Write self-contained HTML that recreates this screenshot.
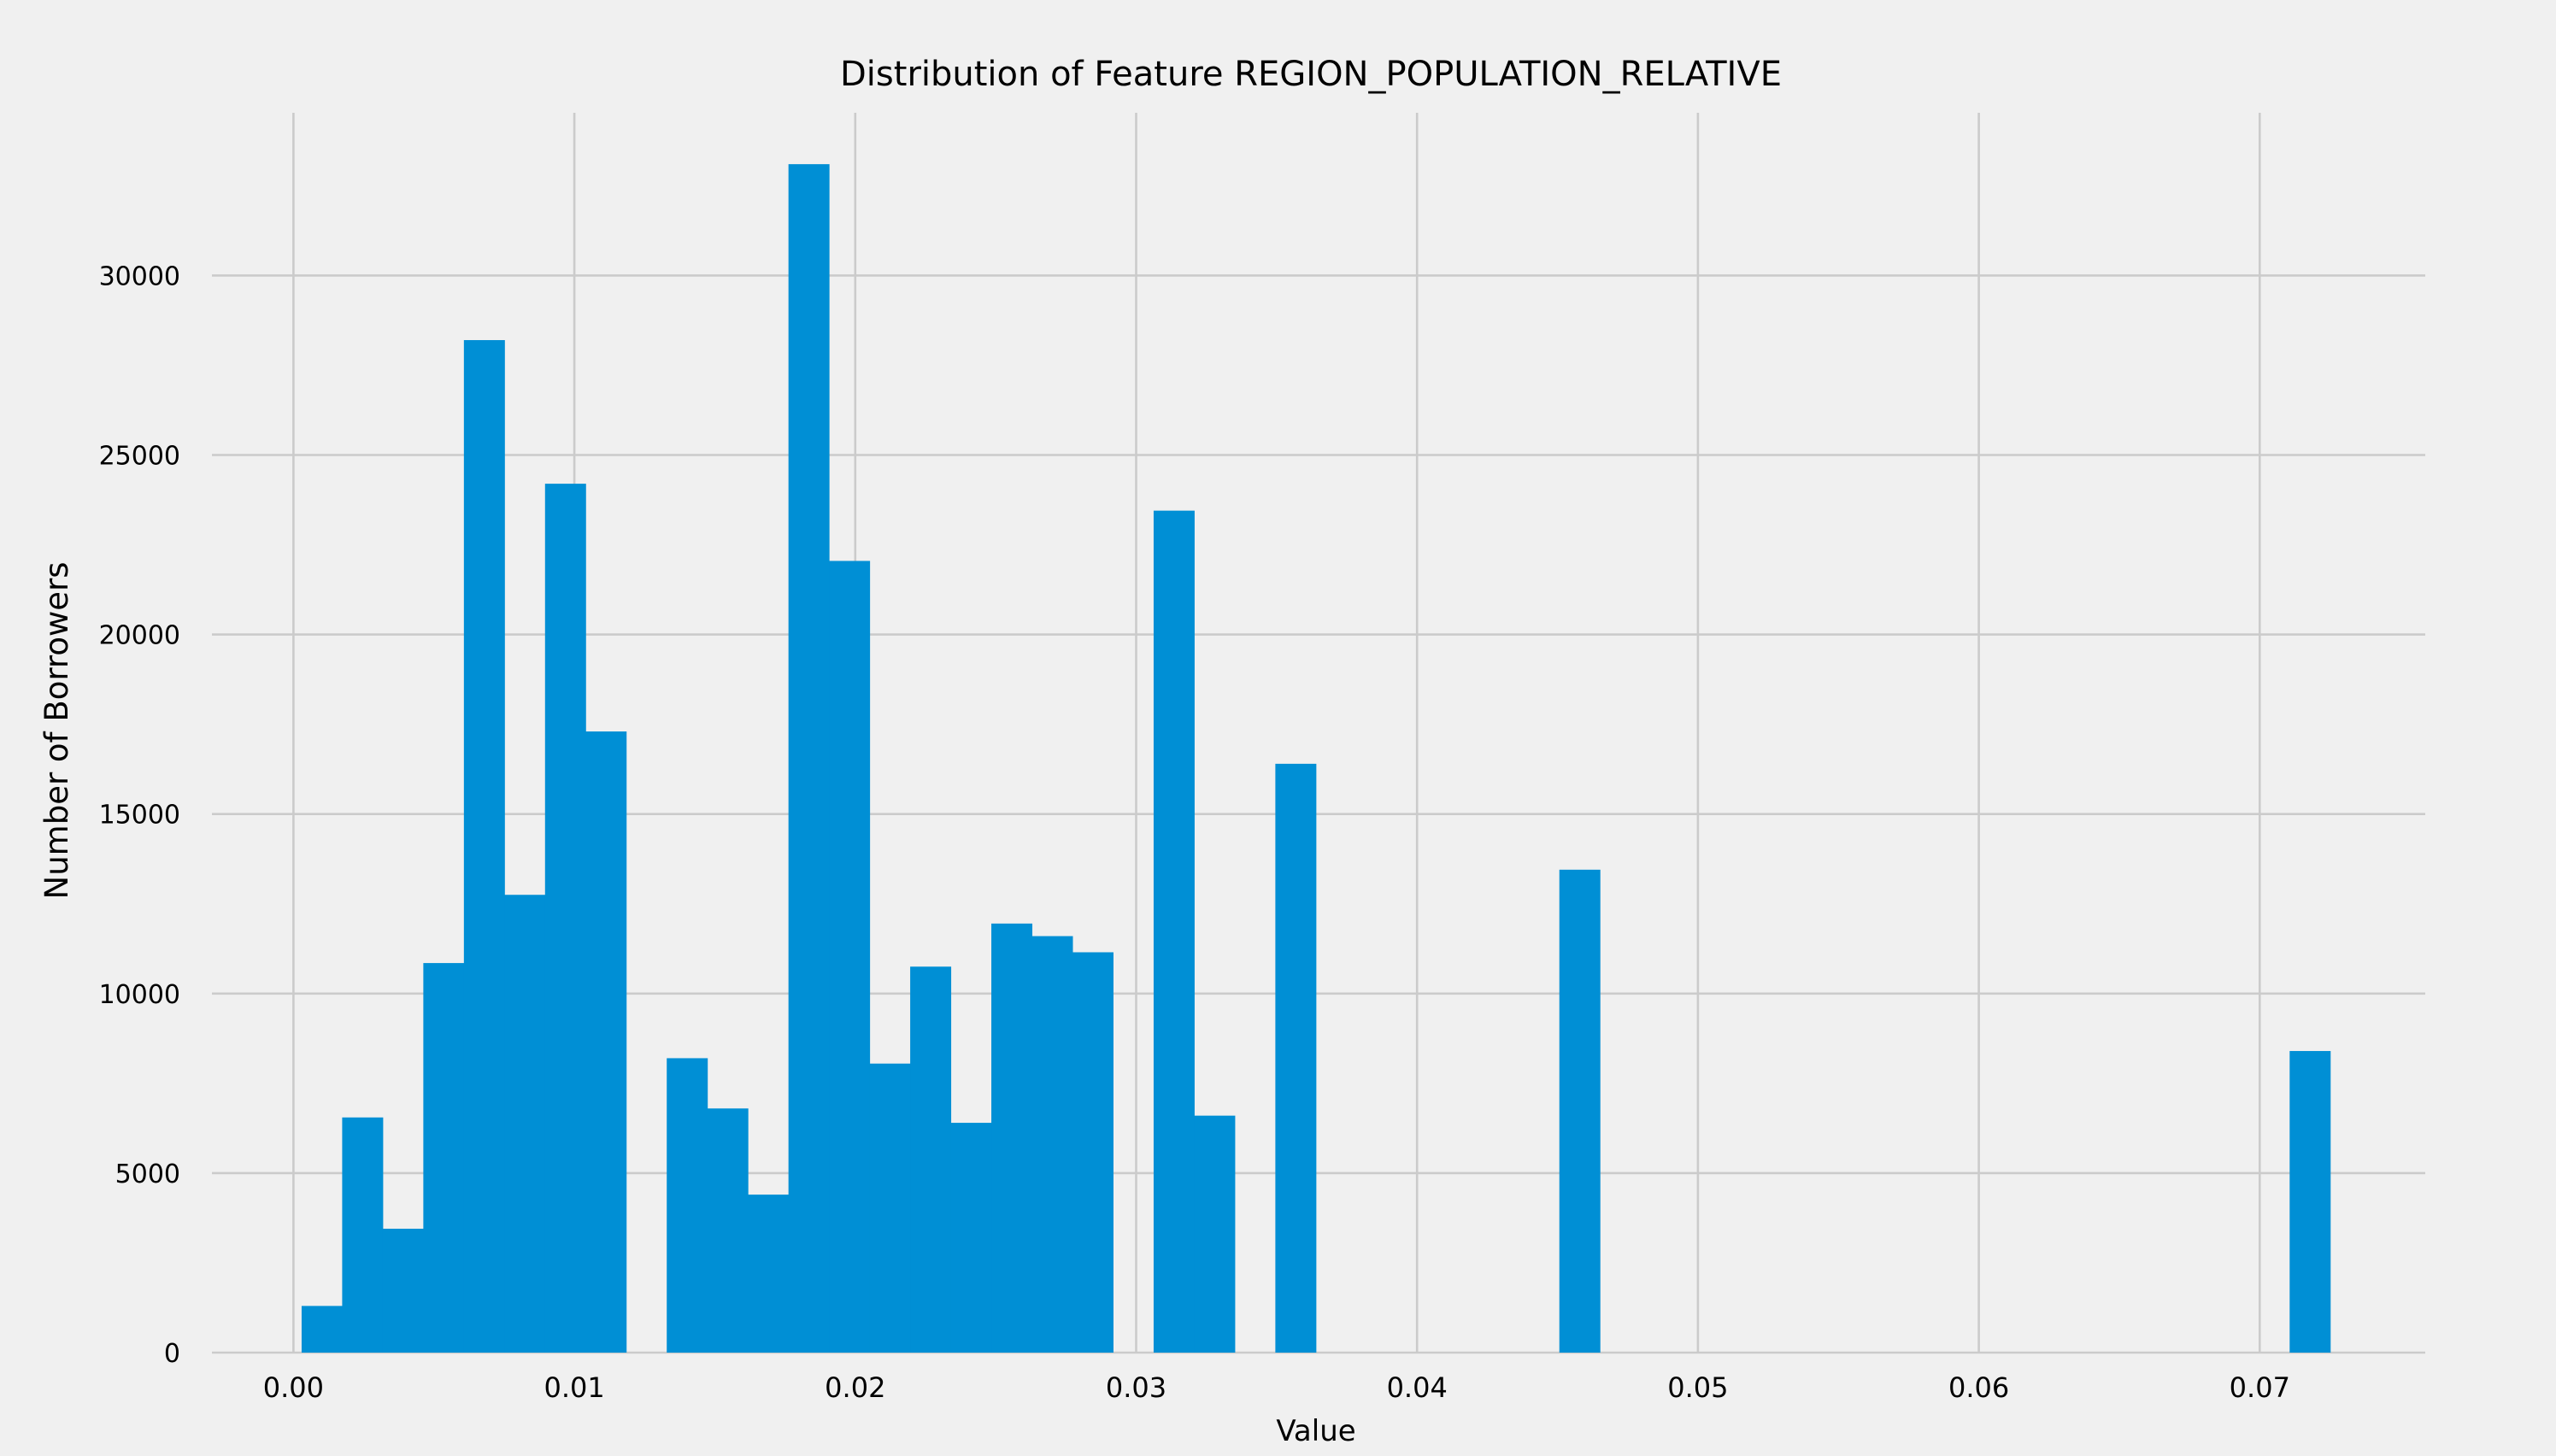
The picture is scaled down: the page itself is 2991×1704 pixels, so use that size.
<!DOCTYPE html>
<html><head><meta charset="utf-8"><style>
html,body{margin:0;padding:0;background:#f0f0f0;}
svg{display:block;font-family:"DejaVu Sans","Liberation Sans",sans-serif;}
</style></head><body>
<svg id="chart" width="2991" height="1704" viewBox="0 0 2991 1704">
<rect x="0" y="0" width="2991" height="1704" fill="#f0f0f0"/>
<g id="grid"></g>
<g id="bars"></g>
<g id="ticks"></g>
<text x="1534" y="100" font-size="40" text-anchor="middle" fill="#000">Distribution of Feature REGION_POPULATION_RELATIVE</text>
<text x="1540" y="1686" font-size="34" text-anchor="middle" fill="#000">Value</text>
<text x="0" y="0" font-size="37" text-anchor="middle" fill="#000" transform="translate(79,855) rotate(-90)">Number of Borrowers</text>
</svg>
<script>
const binMin = 0.00029;
const binWidth = 0.0014444;
const counts = [1300,6550,3450,10850,28200,12750,24200,17300,0,8200,6800,4400,33100,22050,8050,10750,6400,11950,11600,11150,0,23450,6600,0,16400,0,0,0,0,0,0,13450,0,0,0,0,0,0,0,0,0,0,0,0,0,0,0,0,0,8400];
const xTicks = [0,0.01,0.02,0.03,0.04,0.05,0.06,0.07];
const xTickLabels = ["0.00","0.01","0.02","0.03","0.04","0.05","0.06","0.07"];
const yTicks = [0,5000,10000,15000,20000,25000,30000];
const yTickLabels = ["0","5000","10000","15000","20000","25000","30000"];

const NS = "http://www.w3.org/2000/svg";
const plotL = 248, plotR = 2838, plotT = 132, plotB = 1583;
function xs(v){ return 343.4 + v * 32870; }
function ys(v){ return plotB - v * (210.1/5000); }
function mk(tag, attrs, parent){
  const e = document.createElementNS(NS, tag);
  for (const k in attrs) e.setAttribute(k, attrs[k]);
  parent.appendChild(e);
  return e;
}
const grid = document.getElementById('grid');
const bars = document.getElementById('bars');
const ticks = document.getElementById('ticks');
xTicks.forEach((t,i)=>{
  const l = mk('line',{x1:xs(t),x2:xs(t),y1:plotT,y2:plotB,stroke:'#cbcbcb','stroke-width':2.6},grid);
  
  
  const tx = mk('text',{x:xs(t),y:1635,'font-size':32,'text-anchor':'middle',fill:'#000'},ticks);
  tx.textContent = xTickLabels[i];
  
  
});
yTicks.forEach((t,i)=>{
  const l = mk('line',{x1:plotL,x2:plotR,y1:ys(t),y2:ys(t),stroke:'#cbcbcb','stroke-width':2.6},grid);
  
  
  const tx = mk('text',{x:211,y:ys(t)+11,'font-size':30,'text-anchor':'end',fill:'#000'},ticks);
  tx.textContent = yTickLabels[i];
  
  
});
counts.forEach((c,i)=>{
  if (c <= 0) return;
  const x0 = xs(binMin + i*binWidth), x1 = xs(binMin + (i+1)*binWidth);
  const r = mk('rect',{x:x0,y:ys(c),width:x1-x0+0.5,height:plotB-ys(c),fill:'#008fd5'},bars);
  
  
});
</script>
</body></html>
